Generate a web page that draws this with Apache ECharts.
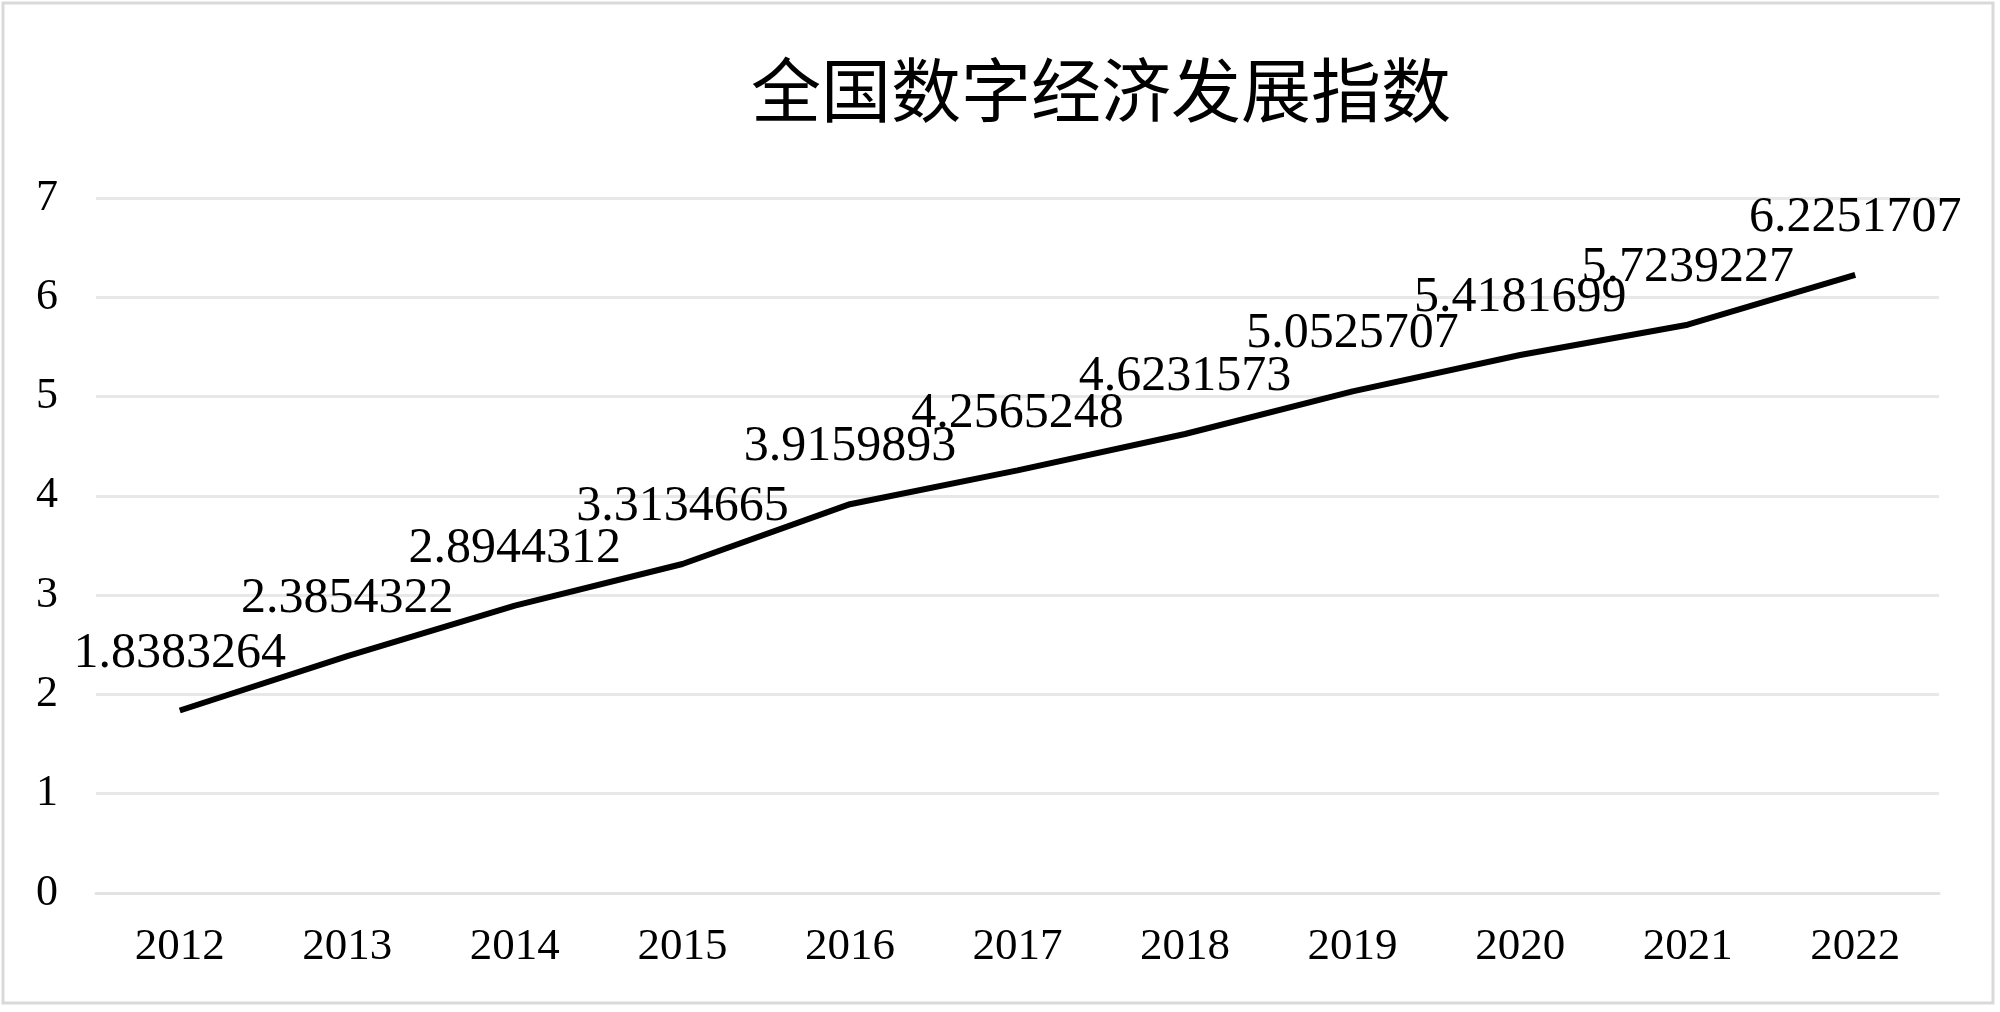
<!DOCTYPE html>
<html>
<head>
<meta charset="utf-8">
<script src="https://cdn.jsdelivr.net/npm/echarts@6/dist/echarts.min.js"></script>
<style>
html,body{margin:0;padding:0;background:#fff;}
#chart{width:2000px;height:1012px;}
</style>
</head>
<body>
<div id="chart"></div>
<script>
const titleText = '全国数字经济发展指数';
const years = ['2012','2013','2014','2015','2016','2017','2018','2019','2020','2021','2022'];
const indexValues = [1.8383264, 2.3854322, 2.8944312, 3.3134665, 3.9159893, 4.2565248, 4.6231573, 5.0525707, 5.4181699, 5.7239227, 6.2251707];
const yMin = 0, yMax = 7, yStep = 1;

const serif = '"Liberation Serif", "Times New Roman", serif';
const chart = echarts.init(document.getElementById('chart'));
chart.setOption({
  backgroundColor: '#ffffff',
  animation: false,
  graphic: [{
    type: 'rect',
    shape: { x: 3, y: 3, width: 1990, height: 1000 },
    style: { fill: 'none', stroke: '#d9d9d9', lineWidth: 3 },
    silent: true
  }],
  title: {
    text: titleText,
    left: 746,
    top: 50,
    textStyle: { fontFamily: '"Noto Sans CJK SC", sans-serif', fontSize: 70, fontWeight: 'normal', color: '#000' }
  },
  grid: { left: 96, right: 61, top: 198, bottom: 119, containLabel: false },
  xAxis: {
    type: 'category',
    data: years,
    boundaryGap: true,
    axisLine: { show: true, lineStyle: { color: '#e3e3e3', width: 3 } },
    axisTick: { show: false },
    axisLabel: { color: '#000', fontFamily: serif, fontSize: 45, margin: 32 }
  },
  yAxis: {
    type: 'value',
    min: yMin, max: yMax, interval: yStep,
    axisLine: { show: false },
    axisTick: { show: false },
    splitLine: { lineStyle: { color: '#e8e8e8', width: 3 } },
    axisLabel: { color: '#000', fontFamily: serif, fontSize: 44, margin: 38 }
  },
  series: [{
    type: 'line',
    data: indexValues,
    showSymbol: true,
    showAllSymbol: true,
    symbol: 'circle',
    symbolSize: 0,
    itemStyle: { color: '#000' },
    lineStyle: { color: '#000', width: 6 },
    label: {
      show: true,
      position: 'top',
      distance: 32,
      color: '#000',
      fontFamily: serif,
      fontSize: 50
    },
    labelLayout: { hideOverlap: false }
  }]
});
</script>
</body>
</html>
